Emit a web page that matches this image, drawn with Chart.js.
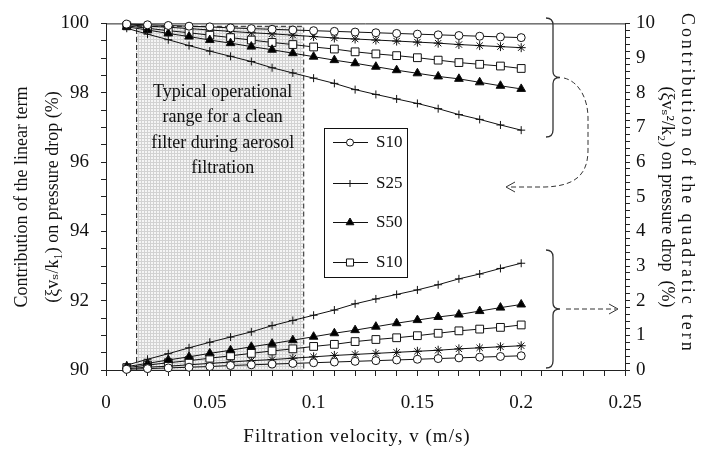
<!DOCTYPE html>
<html>
<head>
<meta charset="utf-8">
<script src="https://cdn.jsdelivr.net/npm/chart.js@4.4.1/dist/chart.umd.min.js"></script>
<style>
  html, body { margin: 0; padding: 0; background: #fff; }
  #wrap { width: 707px; height: 450px; }
</style>
</head>
<body>
<div id="wrap"><canvas id="chart" width="707" height="450"></canvas></div>
<script>
// filtration velocity (m/s)
const velocity = [0.01, 0.02, 0.03, 0.04, 0.05, 0.06, 0.07, 0.08, 0.09, 0.10,
                  0.11, 0.12, 0.13, 0.14, 0.15, 0.16, 0.17, 0.18, 0.19, 0.20];

// linear term share (%), left axis
const linS10 = [99.98, 99.96, 99.94, 99.92, 99.90, 99.87, 99.85, 99.83, 99.81, 99.79,
                99.77, 99.75, 99.73, 99.71, 99.69, 99.67, 99.65, 99.63, 99.61, 99.59];
const linStar = [99.96, 99.92, 99.89, 99.85, 99.81, 99.77, 99.73, 99.70, 99.66, 99.62,
                 99.58, 99.55, 99.52, 99.49, 99.46, 99.43, 99.39, 99.36, 99.33, 99.30];
const linS10b = [99.93, 99.86, 99.79, 99.73, 99.66, 99.59, 99.52, 99.45, 99.39, 99.32,
                 99.26, 99.18, 99.12, 99.07, 99.01, 98.94, 98.87, 98.82, 98.77, 98.70];
const linS50 = [99.90, 99.81, 99.71, 99.62, 99.52, 99.43, 99.33, 99.24, 99.14, 99.04,
                98.94, 98.85, 98.75, 98.65, 98.56, 98.47, 98.40, 98.30, 98.20, 98.11];
const linS25 = [99.86, 99.69, 99.53, 99.36, 99.20, 99.05, 98.90, 98.72, 98.57, 98.42,
                98.27, 98.09, 97.95, 97.82, 97.69, 97.54, 97.37, 97.23, 97.07, 96.92];

// quadratic term share (%), right axis
const quadS10 = [0.02, 0.04, 0.06, 0.08, 0.10, 0.13, 0.15, 0.17, 0.19, 0.21,
                 0.23, 0.25, 0.27, 0.29, 0.31, 0.33, 0.35, 0.37, 0.39, 0.41];
const quadStar = [0.04, 0.08, 0.11, 0.15, 0.19, 0.23, 0.27, 0.30, 0.34, 0.38,
                  0.42, 0.45, 0.48, 0.51, 0.54, 0.57, 0.61, 0.64, 0.67, 0.70];
const quadS10b = [0.07, 0.14, 0.21, 0.27, 0.34, 0.41, 0.48, 0.55, 0.61, 0.68,
                  0.74, 0.82, 0.88, 0.93, 0.99, 1.06, 1.13, 1.18, 1.23, 1.30];
const quadS50 = [0.10, 0.19, 0.29, 0.38, 0.48, 0.57, 0.67, 0.76, 0.86, 0.96,
                 1.06, 1.15, 1.25, 1.35, 1.44, 1.53, 1.60, 1.70, 1.80, 1.89];
const quadS25 = [0.14, 0.31, 0.47, 0.64, 0.80, 0.95, 1.10, 1.28, 1.43, 1.58,
                 1.73, 1.91, 2.05, 2.18, 2.31, 2.46, 2.63, 2.77, 2.93, 3.08];

// series: name, marker, filled marker, shown in legend
const series = [
  { name: 'S10', lin: linS10,  quad: quadS10,  style: 'circle',   radius: 4,   fill: '#fff', legend: true },
  { name: 'S25', lin: linS25,  quad: quadS25,  style: 'cross',    radius: 4,   fill: '#fff', legend: true },
  { name: 'S50', lin: linS50,  quad: quadS50,  style: 'triangle', radius: 5,   fill: '#000', legend: true },
  { name: 'S10', lin: linS10b, quad: quadS10b, style: 'rect',     radius: 5.5, fill: '#fff', legend: true },
  { name: 'S75', lin: linStar, quad: quadStar, style: 'star',     radius: 4.5, fill: '#fff', legend: false }
];

// typical operating window of a clean filter
const rangeStart = 0.0145;
const rangeEnd = 0.095;
const rangeText = ['Typical operational', 'range for a clean', 'filter during aerosol', 'filtration'];

const SERIF = '"Liberation Serif", "DejaVu Serif", serif';
const INK = '#111';

function makeDataset(s, key, axis) {
  return {
    label: s.name,
    data: velocity.map((v, i) => ({ x: v, y: s[key][i] })),
    yAxisID: axis,
    borderColor: INK,
    borderWidth: 1,
    pointStyle: s.style,
    pointRadius: s.radius,
    pointBorderWidth: 1,
    pointBorderColor: INK,
    pointBackgroundColor: s.fill,
    tension: 0,
    clip: 10
  };
}

const datasets = [];
series.forEach(s => datasets.push(makeDataset(s, 'lin', 'y')));
series.forEach(s => datasets.push(makeDataset(s, 'quad', 'y2')));

function shadePattern(ctx) {
  const c = document.createElement('canvas');
  c.width = 3; c.height = 3;
  const g = c.getContext('2d');
  g.fillStyle = '#f5f5f5';
  g.fillRect(0, 0, 3, 3);
  g.fillStyle = '#d2d2d2';
  g.fillRect(0, 0, 3, 1);
  g.fillRect(0, 0, 1, 3);
  return ctx.createPattern(c, 'repeat');
}

function drawBrace(ctx, x, y0, y1) {
  const ym = (y0 + y1) / 2;
  ctx.beginPath();
  ctx.moveTo(x - 7, y0);
  ctx.quadraticCurveTo(x, y0, x, y0 + 7);
  ctx.lineTo(x, ym - 6);
  ctx.quadraticCurveTo(x, ym, x + 7, ym);
  ctx.quadraticCurveTo(x, ym, x, ym + 6);
  ctx.lineTo(x, y1 - 7);
  ctx.quadraticCurveTo(x, y1, x - 7, y1);
  ctx.stroke();
}

function arrowHead(ctx, x, y, dir) {
  ctx.setLineDash([]);
  ctx.beginPath();
  ctx.moveTo(x - dir * 9, y - 5);
  ctx.lineTo(x, y);
  ctx.lineTo(x - dir * 9, y + 5);
  ctx.stroke();
}

const decorations = {
  id: 'decorations',
  beforeDatasetsDraw(chart) {
    const { ctx, chartArea, scales } = chart;
    const xa = scales.x.getPixelForValue(rangeStart);
    const xb = scales.x.getPixelForValue(rangeEnd);
    const yt = scales.y.getPixelForValue(99.93);
    const yb = chartArea.bottom;
    ctx.save();
    ctx.fillStyle = shadePattern(ctx);
    ctx.fillRect(xa, yt, xb - xa, yb - yt);
    ctx.strokeStyle = '#222';
    ctx.lineWidth = 1;
    ctx.setLineDash([5, 3]);
    ctx.beginPath();
    ctx.moveTo(xa + 0.5, yb);
    ctx.lineTo(xa + 0.5, yt + 0.5);
    ctx.lineTo(xb + 0.5, yt + 0.5);
    ctx.lineTo(xb + 0.5, yb);
    ctx.stroke();
    ctx.setLineDash([]);

    ctx.fillStyle = INK;
    ctx.font = '18px ' + SERIF;
    ctx.textAlign = 'center';
    ctx.textBaseline = 'middle';
    const cx = (xa + xb) / 2 + 3;
    rangeText.forEach((t, i) => ctx.fillText(t, cx, 92 + i * 25.5));

    // top frame line
    ctx.strokeStyle = '#222';
    ctx.beginPath();
    ctx.moveTo(chartArea.left, chartArea.top + 0.5);
    ctx.lineTo(chartArea.right, chartArea.top + 0.5);
    ctx.stroke();
    ctx.restore();
  },
  afterDatasetsDraw(chart) {
    const { ctx } = chart;
    ctx.save();
    ctx.strokeStyle = '#333';
    ctx.lineWidth = 1.3;
    drawBrace(ctx, 553, 18, 137);
    drawBrace(ctx, 553, 250, 368);

    // dashed pointers from braces to their axes
    ctx.lineWidth = 1;
    ctx.setLineDash([5, 3]);
    ctx.beginPath();
    ctx.moveTo(564, 78);
    ctx.bezierCurveTo(580, 82, 588, 100, 588, 118);
    ctx.lineTo(588, 150);
    ctx.bezierCurveTo(588, 175, 575, 186, 545, 187);
    ctx.lineTo(508, 187);
    ctx.stroke();
    arrowHead(ctx, 506, 187, -1);

    ctx.setLineDash([5, 3]);
    ctx.beginPath();
    ctx.moveTo(566, 309);
    ctx.lineTo(616, 309);
    ctx.stroke();
    arrowHead(ctx, 618, 309, 1);

    // legend box
    ctx.setLineDash([]);
    ctx.fillStyle = '#fff';
    ctx.fillRect(324, 128, 83, 149);
    ctx.strokeStyle = '#111';
    ctx.lineWidth = 1;
    ctx.strokeRect(324.5, 128.5, 83, 149);
    const rows = [142, 183, 222, 262];
    series.filter(s => s.legend).forEach((s, i) => {
      const y = rows[i];
      ctx.strokeStyle = INK;
      ctx.beginPath();
      ctx.moveTo(333, y + 0.5);
      ctx.lineTo(368, y + 0.5);
      ctx.stroke();
      ctx.fillStyle = s.fill;
      Chart.helpers.drawPoint(ctx, {
        pointStyle: s.style, radius: s.radius - 0.5, rotation: 0, borderWidth: 1
      }, 350, y + 0.5);
      ctx.fillStyle = INK;
      ctx.font = '17px ' + SERIF;
      ctx.textAlign = 'left';
      ctx.textBaseline = 'middle';
      ctx.fillText(s.name, 376, y + 1);
    });
    ctx.restore();
  },
  afterDraw(chart) {
    const { ctx } = chart;
    ctx.save();
    ctx.fillStyle = INK;
    ctx.font = '19px ' + SERIF;
    ctx.textAlign = 'center';
    ctx.textBaseline = 'middle';
    ctx.letterSpacing = '1px';
    ctx.fillText('Filtration velocity, v (m/s)', 357, 437);
    ctx.letterSpacing = '0px';
    ctx.font = '18px ' + SERIF;

    ctx.save();
    ctx.translate(22, 197);
    ctx.rotate(-Math.PI / 2);
    ctx.fillText('Contribution of the linear term', 0, 0);
    ctx.fillText('(\u03BEv\u209B/k\u2081) on pressure drop (%)', 0, 31);
    ctx.restore();

    // first line of the right title runs past the frame and gets cut
    ctx.save();
    ctx.beginPath();
    ctx.rect(640, 0, 67, 350);
    ctx.clip();
    ctx.translate(687, 13);
    ctx.rotate(Math.PI / 2);
    ctx.textAlign = 'left';
    ctx.letterSpacing = '2.9px';
    ctx.fillText('Contribution of the quadratic term', 0, 0);
    ctx.restore();

    ctx.save();
    ctx.translate(667, 197);
    ctx.rotate(Math.PI / 2);
    ctx.fillText('(\u03BEv\u209B\u00B2/k\u2082) on pressure drop  (%)', 0, 0);
    ctx.restore();
    ctx.restore();
  }
};

const tickFont = { family: SERIF, size: 19 };
const axisGrid = { drawOnChartArea: false, drawTicks: true, tickLength: 5, color: '#222', lineWidth: 1 };
const axisBorder = { display: true, color: '#222', width: 1 };

new Chart(document.getElementById('chart'), {
  type: 'line',
  data: { datasets },
  options: {
    responsive: false,
    animation: false,
    devicePixelRatio: 1,
    layout: { padding: { top: 17, left: 0, right: 0, bottom: 0 } },
    plugins: { legend: { display: false }, tooltip: { enabled: false } },
    scales: {
      x: {
        type: 'linear',
        min: 0,
        max: 0.25,
        grid: Object.assign({}, axisGrid, { tickLength: 6 }),
        border: axisBorder,
        afterFit: s => { s.height = 80; },
        ticks: {
          stepSize: 0.01,
          autoSkip: false,
          maxRotation: 0,
          padding: 16,
          color: INK,
          font: tickFont,
          callback: v => (Math.round(v * 100) % 5 === 0 ? String(+v.toFixed(2)) : '')
        }
      },
      y: {
        position: 'left',
        min: 90,
        max: 100,
        grid: axisGrid,
        border: axisBorder,
        afterFit: s => { s.width = 106; },
        ticks: {
          stepSize: 0.5,
          autoSkip: false,
          padding: 12,
          color: INK,
          font: tickFont,
          callback: v => (Math.round(v * 2) % 4 === 0 ? String(Math.round(v)) : '')
        }
      },
      y2: {
        position: 'right',
        min: 0,
        max: 10,
        grid: axisGrid,
        border: axisBorder,
        afterFit: s => { s.width = 82; },
        ticks: {
          stepSize: 0.2,
          autoSkip: false,
          maxTicksLimit: 100,
          padding: 6,
          color: INK,
          font: tickFont,
          callback: v => (Math.abs(v - Math.round(v)) < 1e-6 ? String(Math.round(v)) : '')
        }
      }
    }
  },
  plugins: [decorations]
});
</script>
</body>
</html>
